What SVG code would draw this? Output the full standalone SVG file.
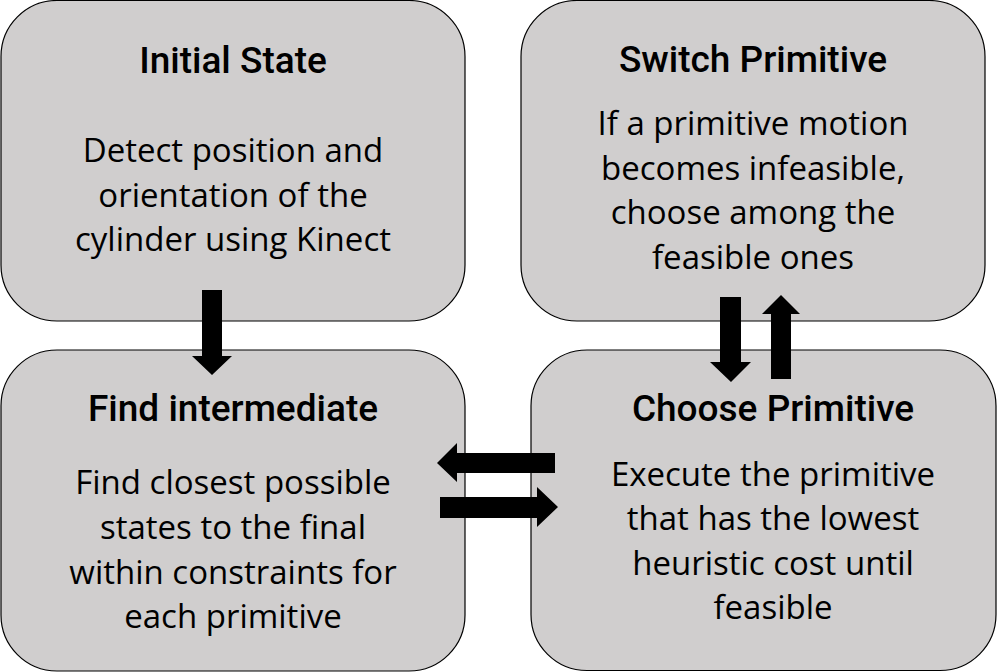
<svg xmlns="http://www.w3.org/2000/svg" width="1006" height="672" viewBox="0 0 1006 672">
<style>
.box{fill:#d0cece;stroke:#000;stroke-width:1.2}
.t{font-family:Roboto,"Liberation Sans",sans-serif;font-weight:500;font-size:37px;fill:#000;text-anchor:middle}
.b{font-family:"Open Sans","Liberation Sans",sans-serif;font-size:33px;fill:#000;text-anchor:middle}
.arr{fill:#000}
</style>
<rect width="1006" height="672" fill="#fff"/>
<g id="initial-state">
<rect class="box" x="1" y="0.5" width="464" height="320.5" rx="56" ry="56"/>
<text class="t" x="233" y="73">Initial State</text>
<text class="b" x="233" y="162">Detect position and</text>
<text class="b" x="233" y="207">orientation of the</text>
<text class="b" x="233" y="251">cylinder using Kinect</text>
</g>
<g id="switch-primitive">
<rect class="box" x="521" y="0.5" width="464" height="320.5" rx="56" ry="56"/>
<text class="t" x="753" y="72">Switch Primitive</text>
<text class="b" x="753" y="135">If a primitive motion</text>
<text class="b" x="753" y="180">becomes infeasible,</text>
<text class="b" x="753" y="224">choose among the</text>
<text class="b" x="753" y="269">feasible ones</text>
</g>
<g id="find-intermediate">
<rect class="box" x="1" y="350" width="464" height="321" rx="56" ry="56"/>
<text class="t" x="233" y="421">Find intermediate</text>
<text class="b" x="233" y="494">Find closest possible</text>
<text class="b" x="233" y="539">states to the final</text>
<text class="b" x="233" y="584">within constraints for</text>
<text class="b" x="233" y="628">each primitive</text>
</g>
<g id="choose-primitive">
<rect class="box" x="531" y="350" width="465" height="320.5" rx="56" ry="56"/>
<text class="t" x="773" y="421">Choose Primitive</text>
<text class="b" x="773" y="486">Execute the primitive</text>
<text class="b" x="773" y="530">that has the lowest</text>
<text class="b" x="773" y="575">heuristic cost until</text>
<text class="b" x="773" y="619">feasible</text>
</g>
<g id="connectors">
<polygon class="arr" points="202,290 222,290 222,356 232,356 212,375 192,356 202,356"/>
<polygon class="arr" points="720,297 741,297 741,362 751,362 731,382 710,362 720,362"/>
<polygon class="arr" points="771,379 791,379 791,314 800,314 781,295 762,314 771,314"/>
<polygon class="arr" points="555,453 555,473 457,473 457,482 437,463 457,443 457,453"/>
<polygon class="arr" points="440,497 537,497 537,487 558,507 537,527 537,518 440,518"/>
</g>
</svg>
